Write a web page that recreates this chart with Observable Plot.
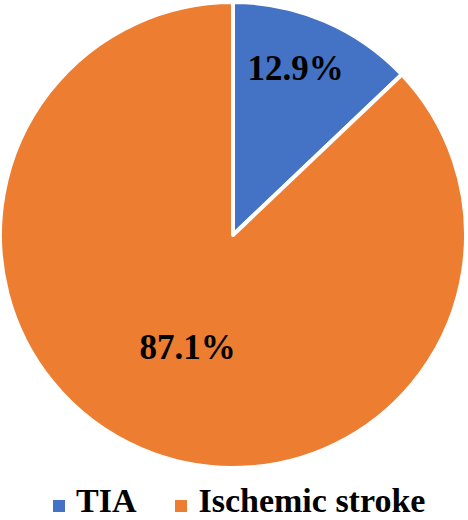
<!DOCTYPE html>
<html>
<head>
<meta charset="utf-8">
<script src="https://cdn.jsdelivr.net/npm/d3@7"></script>
<script src="https://cdn.jsdelivr.net/npm/@observablehq/plot@0.6"></script>
<style>
  html, body { margin: 0; padding: 0; background: #fff; }
  #chart { width: 468px; position: relative; font-family: "Liberation Serif", "Times New Roman", serif; }
  .legend { display: flex; align-items: baseline; height: 32px; padding-top: 4px; padding-left: 53px; font-weight: bold; font-size: 34px; color: #000; line-height: 1; white-space: nowrap; }
  .sw { display: inline-block; width: 12px; height: 12px; margin-right: 11px; }
  .item { display: inline-flex; align-items: baseline; margin-right: 39px; }
</style>
</head>
<body>
<div id="chart"></div>
<script>
const categories = ["TIA", "Ischemic stroke"];
const values = [12.9, 87.1];
const labels = ["12.9%", "87.1%"];
const colors = ["#4472C4", "#ED7D31"];

const data = categories.map((c, i) => ({category: c, value: values[i], label: labels[i]}));
const arcs = d3.pie().value(d => d.value).sort(null)(data);
const labelRadius = [0.76, 0.52];
const labelAngleShift = [-0.047, -0.016];
arcs.forEach((a, i) => {
  const mid = (a.startAngle + a.endAngle) / 2 + labelAngleShift[i];
  a.lx = Math.sin(mid) * labelRadius[i];
  a.ly = Math.cos(mid) * labelRadius[i];
});

const color = d3.scaleOrdinal(categories, colors);

function pieMark(index, scales) {
  const cx = scales.x(0), cy = scales.y(0);
  const r = Math.min(scales.x(1) - scales.x(0), scales.y(-1) - scales.y(0));
  const arc = d3.arc().innerRadius(0).outerRadius(r);
  const g = d3.create("svg:g").attr("transform", `translate(${cx},${cy})`);
  g.selectAll("path").data(arcs).join("path")
    .attr("d", arc)
    .attr("fill", d => color(d.data.category))
    .attr("stroke", "#fff")
    .attr("stroke-width", 4)
    .attr("stroke-linejoin", "round");
  return g.node();
}

const plot = Plot.plot({
  width: 468,
  height: 480,
  marginLeft: 0,
  marginRight: 2,
  marginTop: 1,
  marginBottom: 11,
  x: {domain: [-1, 1], axis: null},
  y: {domain: [-1, 1], axis: null},
  style: {background: "#fff", overflow: "visible"},
  marks: [
    pieMark,
    Plot.text(arcs, {
      x: "lx", y: "ly", text: d => d.data.label,
      fontSize: 35, fontWeight: "bold", fontFamily: "Liberation Serif, Times New Roman, serif",
      fill: "#000"
    })
  ]
});

const chart = document.getElementById("chart");
chart.appendChild(plot);

const legend = document.createElement("div");
legend.className = "legend";
categories.forEach((c, i) => {
  const item = document.createElement("span");
  item.className = "item";
  const sw = document.createElement("span");
  sw.className = "sw";
  sw.style.background = colors[i];
  item.appendChild(sw);
  item.appendChild(document.createTextNode(c));
  legend.appendChild(item);
});
chart.appendChild(legend);
</script>
</body>
</html>
